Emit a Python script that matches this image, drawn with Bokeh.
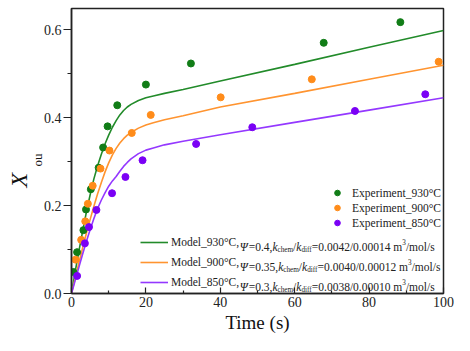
import math
from bokeh.plotting import figure
from bokeh.models import Range1d, FixedTicker, Legend, LegendItem, Label, Title
from bokeh.embed import file_html
from bokeh.resources import INLINE

# ---------------- data ----------------
t_930 = [0.5, 1.5, 3.2, 3.9, 5.2, 7.3, 8.5, 9.7, 12.3, 20.0, 32.1, 67.8, 88.4]
x_930 = [0.049, 0.094, 0.144, 0.191, 0.237, 0.286, 0.332, 0.380, 0.428, 0.475, 0.523, 0.570, 0.617]

t_900 = [1.1, 2.6, 3.7, 4.4, 5.7, 7.8, 10.2, 16.2, 21.3, 40.1, 64.6, 98.7]
x_900 = [0.077, 0.122, 0.164, 0.204, 0.245, 0.284, 0.325, 0.365, 0.406, 0.446, 0.487, 0.527]

t_850 = [1.5, 3.6, 4.7, 6.7, 10.9, 14.5, 19.1, 33.5, 48.6, 76.2, 95.1]
x_850 = [0.040, 0.114, 0.151, 0.190, 0.228, 0.265, 0.303, 0.340, 0.378, 0.415, 0.453]

t_model = [0, 1, 2, 3, 4, 5, 6, 7, 8, 9, 10, 11, 12, 13, 14, 15, 16, 18, 20, 22, 25, 30, 40, 60, 80, 100]
m_930 = [0, 0.050, 0.097, 0.142, 0.185, 0.224, 0.260, 0.290, 0.316, 0.340, 0.360, 0.378, 0.393,
         0.406, 0.416, 0.424, 0.430, 0.439, 0.445, 0.449, 0.455, 0.464, 0.483, 0.521, 0.560, 0.598]
m_900 = [0, 0.035, 0.070, 0.104, 0.137, 0.168, 0.198, 0.226, 0.252, 0.276, 0.297, 0.315, 0.330,
         0.342, 0.352, 0.360, 0.366, 0.376, 0.383, 0.388, 0.395, 0.404, 0.424, 0.455, 0.487, 0.519]
m_850 = [0, 0.030, 0.060, 0.090, 0.118, 0.145, 0.170, 0.193, 0.212, 0.229, 0.244, 0.256, 0.266,
         0.278, 0.289, 0.298, 0.306, 0.318, 0.326, 0.331, 0.338, 0.346, 0.361, 0.389, 0.417, 0.445]

temps = ["930", "900", "850"]
psi = ["0.4", "0.35", "0.3"]
k_chem = ["0.0042", "0.0040", "0.0038"]
k_diff = ["0.00014", "0.00012", "0.00010"]

x_ticks = [0, 20, 40, 60, 80, 100]
x_minor = [10, 30, 50, 70, 90]
y_ticks = [0, 0.2, 0.4, 0.6]
y_minor = [0.1, 0.3, 0.5]
y_tick_labels = ["0.0", "0.2", "0.4", "0.6"]

# ---------------- style ----------------
FONT = "Liberation Serif"
pt_colors = ["#117d17", "#ff8c1a", "#7a00f5"]
ln_colors = ["#228b2a", "#ff9430", "#9438ff"]

p = figure(width=454, height=335, x_range=Range1d(0, 100), y_range=Range1d(0, 0.648),
           output_backend="svg", toolbar_location=None,
           min_border_left=71, min_border_right=11, min_border_top=8, min_border_bottom=40)
p.grid.visible = False
p.outline_line_color = "#222222"
p.outline_line_width = 1.5
p.background_fill_color = "white"

p.xaxis.ticker = FixedTicker(ticks=x_ticks, minor_ticks=x_minor)
p.yaxis.ticker = FixedTicker(ticks=y_ticks, minor_ticks=y_minor)
p.yaxis.major_label_overrides = {v: s for v, s in zip(y_ticks, y_tick_labels)}

for ax in (p.xaxis, p.yaxis):
    ax.axis_line_color = "#222222"
    ax.axis_line_width = 1.5
    ax.major_tick_line_color = "#222222"
    ax.minor_tick_line_color = "#222222"
    ax.major_tick_line_width = 1.2
    ax.minor_tick_line_width = 1.2
    ax.major_label_text_font = FONT
    ax.major_label_text_font_size = "14px"
    ax.major_label_text_color = "#222222"

p.xaxis.major_tick_in = 6
p.xaxis.major_tick_out = 0
p.xaxis.minor_tick_in = 3
p.xaxis.minor_tick_out = 0
p.xaxis.major_label_standoff = 3
p.xaxis.axis_label = "Time (s)"
p.xaxis.axis_label_text_font = FONT
p.xaxis.axis_label_text_font_size = "19px"
p.xaxis.axis_label_text_font_style = "normal"
p.xaxis.axis_label_text_color = "#111111"
p.xaxis.axis_label_standoff = 2

p.yaxis.major_tick_in = 0
p.yaxis.major_tick_out = 8
p.yaxis.minor_tick_in = 0
p.yaxis.minor_tick_out = 4
p.yaxis.major_label_standoff = 2

# y axis label X_ou as two stacked left titles
FRAME_B = 293.0
FRAME_L = 71.0
t_ou = Title(text="ou", text_font=FONT, text_font_size="13px", text_font_style="normal",
             text_color="#111111", align="left", vertical_align="bottom",
             offset=FRAME_B - 166, standoff=-9)
p.add_layout(t_ou, "left")
t_X = Title(text="X", text_font=FONT, text_font_size="24px", text_font_style="italic",
            text_color="#111111", align="left", vertical_align="bottom",
            offset=FRAME_B - 187, standoff=2)
p.add_layout(t_X, "left")

# ---------------- glyphs ----------------
series = [(t_930, x_930, m_930), (t_900, x_900, m_900), (t_850, x_850, m_850)]
pt_renderers, ln_renderers = [], []
for i, (tt, xx, mm) in enumerate(series):
    r_line = p.line(t_model, mm, line_color=ln_colors[i], line_width=1.6)
    ln_renderers.append(r_line)
for i, (tt, xx, mm) in enumerate(series):
    r_pt = p.scatter(tt, xx, size=7, fill_color=pt_colors[i], line_color=pt_colors[i])
    pt_renderers.append(r_pt)

# ---------------- legends ----------------
MAIN = 11.5
SMALL = 7.2
leg1 = Legend(items=[LegendItem(label="Experiment_%s°C" % t, renderers=[r])
                     for t, r in zip(temps, pt_renderers)],
              location=(330 - FRAME_L, FRAME_B - 230.2), orientation="vertical",
              glyph_width=14, glyph_height=15, label_height=15, spacing=0,
              padding=0, margin=0, label_standoff=8,
              label_text_font=FONT, label_text_font_size="%gpx" % MAIN, label_text_color="#222222",
              background_fill_alpha=0, border_line_alpha=0)
p.add_layout(leg1)

LINE_L = 140
leg2 = Legend(items=[LegendItem(label="Model_%s°C," % t, renderers=[r])
                     for t, r in zip(temps, ln_renderers)],
              location=(LINE_L - FRAME_L, FRAME_B - 292.3), orientation="vertical",
              glyph_width=28, glyph_height=20, label_height=20, spacing=0,
              padding=0, margin=0, label_standoff=3,
              label_text_font=FONT, label_text_font_size="%gpx" % MAIN, label_text_color="#222222",
              background_fill_alpha=0, border_line_alpha=0)
p.add_layout(leg2)

# rest of model legend text (with sub/superscripts), positioned by Times metrics
W_R = {'M': 889, 'o': 500, 'd': 500, 'e': 444, 'l': 278, '_': 500, '°': 400, 'C': 667, ',': 250,
       '=': 564, '.': 250, '/': 278, ' ': 250, 'm': 778, 's': 389, 'c': 444, 'h': 500, 'i': 278,
       'f': 333, 'k': 500}
W_I = {'k': 444, 'Ψ': 780}


def tw(s, size, italic=False):
    tab = W_I if italic else W_R
    return sum(tab.get(c, 500) for c in s) * size / 1000.0


row_centers = [242.3, 262.3, 282.3]
for i in range(3):
    base_sy = row_centers[i] + 0.3375 * MAIN
    x = LINE_L + 28 + 3 + tw("Model_%s°C," % temps[i], MAIN)
    chunks = [("Ψ", True, MAIN, 0), ("=%s," % psi[i], False, MAIN, 0), ("k", True, MAIN, 0),
              ("chem", False, SMALL, -3.2), ("/", False, MAIN, 0), ("k", True, MAIN, 0),
              ("diff", False, SMALL, -3.2), ("=%s/%s m" % (k_chem[i], k_diff[i]), False, MAIN, 0),
              ("3", False, SMALL, 4.2), ("/mol/s", False, MAIN, 0)]
    for txt, it, sz, dy in chunks:
        p.add_layout(Label(x=x - FRAME_L, y=FRAME_B - base_sy + dy, x_units="screen", y_units="screen",
                           text=txt, text_font=FONT, text_font_size="%gpx" % sz,
                           text_font_style="italic" if it else "normal",
                           text_color="#222222", text_align="left", text_baseline="alphabetic"))
        x += tw(txt, sz, it)

open("out.html", "w").write(file_html(p, INLINE))
